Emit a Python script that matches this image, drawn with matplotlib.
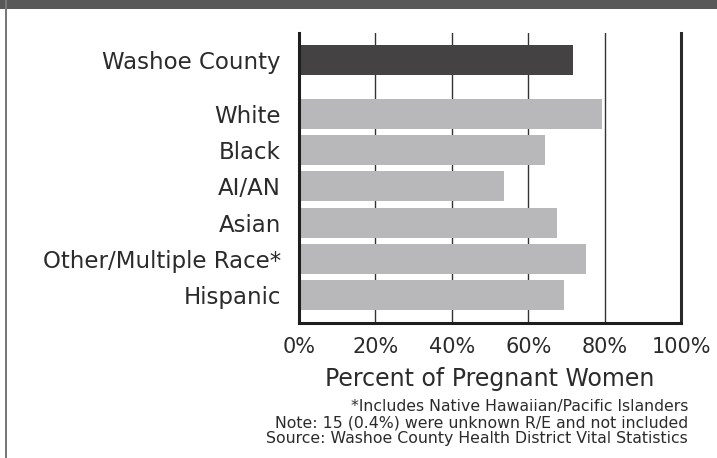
import matplotlib
matplotlib.use("Agg")
import matplotlib.pyplot as plt
from matplotlib.patches import Rectangle
from matplotlib.ticker import FuncFormatter

# data
groups = ["Washoe County", "White", "Black", "AI/AN", "Asian",
          "Other/Multiple Race*", "Hispanic"]
percents = [71.6, 79.3, 64.4, 53.7, 67.5, 75.1, 69.4]
positions = [0, 1.5, 2.5, 3.5, 4.5, 5.5, 6.5]
xticks = [0, 20, 40, 60, 80, 100]
notes = ["*Includes Native Hawaiian/Pacific Islanders",
         "Note: 15 (0.4%) were unknown R/E and not included",
         "Source: Washoe County Health District Vital Statistics"]

plt.rcParams['font.family'] = ['DejaVu Sans']
txt = '#2b2b2b'

fig = plt.figure(figsize=(7.17, 4.58), dpi=100)
fig.patch.set_facecolor('white')

# frame: dark band on top, thin gray rule on the left
fig.add_artist(Rectangle((0, 1 - 9 / 458), 1, 9 / 458, transform=fig.transFigure,
                         color='#585858', lw=0))
fig.add_artist(Rectangle((5 / 717, 0), 2 / 717, 1, transform=fig.transFigure,
                         color='#777777', lw=0))

ax = fig.add_axes([299 / 717, 1 - 323 / 458, 382 / 717, 290 / 458])

colors = ['#444243'] + ['#b8b8ba'] * (len(groups) - 1)
ax.barh(positions, percents, height=0.83, color=colors, zorder=2)

for x in xticks[1:-1]:
    ax.axvline(x, color='#333333', lw=1.0, zorder=1)
ax.axvline(100, color='#2a2a2a', lw=2.2, zorder=3, clip_on=False)

ax.set_xlim(0, 100)
ax.set_ylim(7.28, -0.75)
ax.set_xticks(xticks)
ax.xaxis.set_major_formatter(FuncFormatter(lambda v, p: '%d%%' % v))
ax.set_yticks(positions)
ax.set_yticklabels(groups)
ax.tick_params(axis='x', length=0, labelsize=15, colors=txt, pad=10)
ax.tick_params(axis='y', length=0, labelsize=16.5, colors=txt, pad=13)

for s in ['top', 'right']:
    ax.spines[s].set_visible(False)
for s in ['left', 'bottom']:
    ax.spines[s].set_color('#1e1e1e')
    ax.spines[s].set_linewidth(2.2)
    ax.spines[s].set_zorder(4)

ax.set_xlabel('Percent of Pregnant Women', fontsize=17, color=txt, labelpad=7)

for i, line in enumerate(notes):
    fig.text(688 / 717, 1 - (407 + 16 * i) / 458, line, ha='right', va='center',
             fontsize=11.3, color=txt)

fig.savefig('out.png', dpi=100, facecolor='white')
